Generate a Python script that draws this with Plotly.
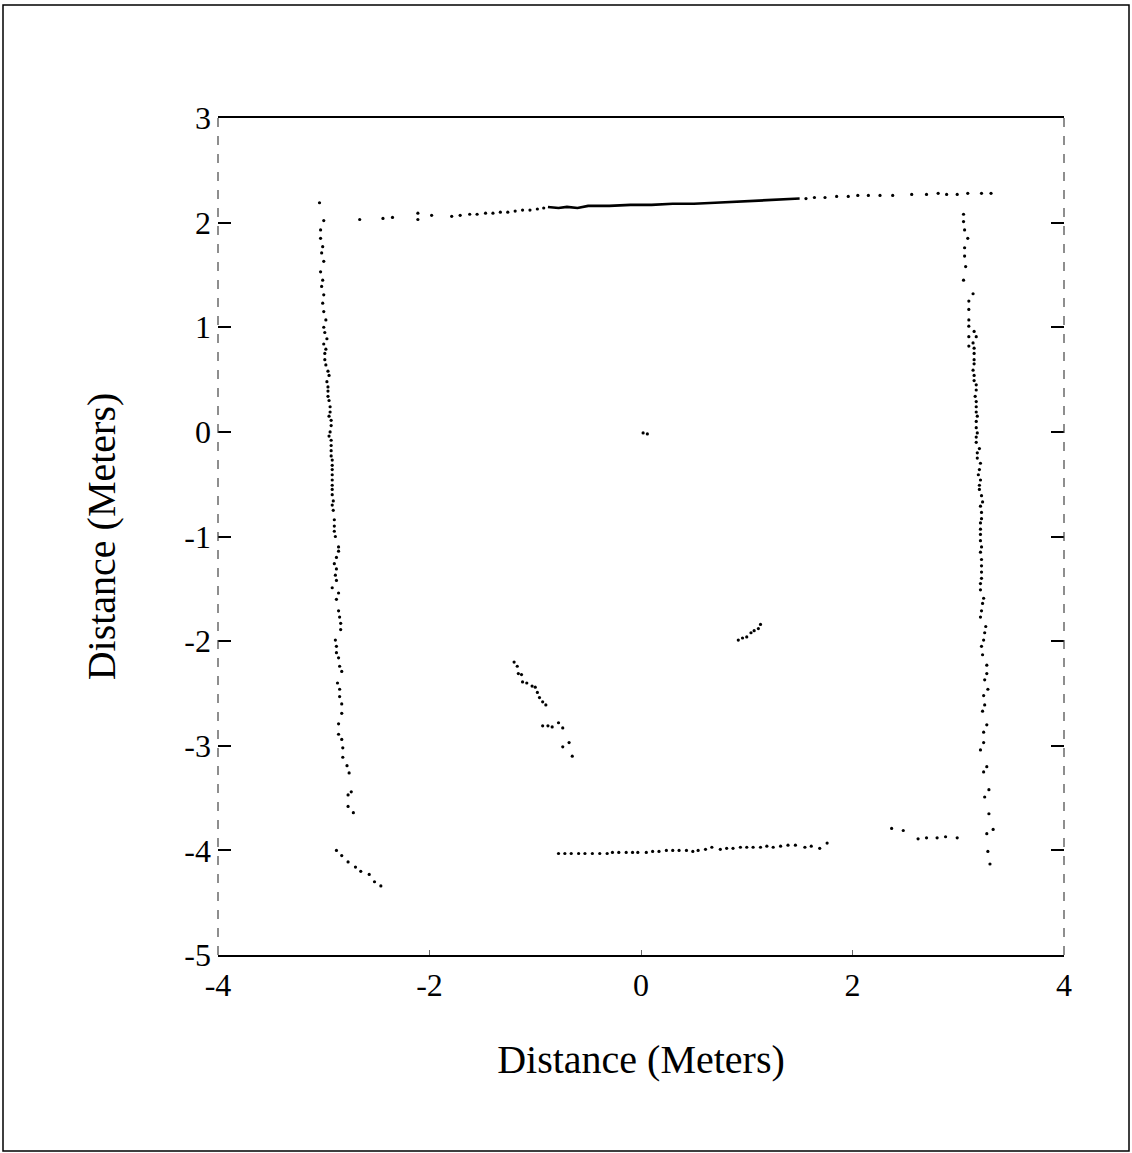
import plotly.graph_objects as go

# ---------------- data (metres) ----------------
TOP_WALL_LEFT = [(-2.66, 2.03), (-2.44, 2.04), (-2.35, 2.05), (-2.11, 2.03), (-2.11, 2.09),
                 (-1.98, 2.07), (-1.79, 2.06), (-1.71, 2.07), (-1.62, 2.08), (-1.55, 2.08),
                 (-1.47, 2.09), (-1.40, 2.09), (-1.33, 2.10), (-1.26, 2.10), (-1.19, 2.11),
                 (-1.12, 2.12), (-1.05, 2.12), (-0.98, 2.13), (-0.92, 2.14)]
TOP_WALL_DENSE = [(-0.88, 2.15), (-0.78, 2.14), (-0.70, 2.15), (-0.60, 2.14), (-0.50, 2.16),
                  (-0.30, 2.16), (-0.10, 2.17), (0.10, 2.17), (0.30, 2.18), (0.50, 2.18),
                  (0.70, 2.19), (0.90, 2.20), (1.10, 2.21), (1.30, 2.22), (1.50, 2.23)]
TOP_WALL_RIGHT = [(1.56, 2.23), (1.64, 2.24), (1.74, 2.24), (1.85, 2.25), (1.96, 2.25),
                  (2.05, 2.26), (2.15, 2.26), (2.26, 2.26), (2.38, 2.26), (2.56, 2.27),
                  (2.70, 2.27), (2.81, 2.28), (2.89, 2.27), (2.99, 2.27), (3.09, 2.28),
                  (3.22, 2.28), (3.31, 2.28)]

LEFT_WALL = [(-3.04, 2.19), (-3.00, 2.02), (-3.03, 1.93), (-3.03, 1.85), (-3.01, 1.77),
             (-3.02, 1.71), (-3.00, 1.63), (-3.03, 1.53), (-3.01, 1.45), (-3.02, 1.39),
             (-3.00, 1.31), (-3.01, 1.23), (-3.00, 1.15), (-2.98, 1.07), (-3.00, 1.00),
             (-2.99, 0.95), (-2.97, 0.89), (-3.00, 0.84), (-2.98, 0.79), (-2.99, 0.75),
             (-2.99, 0.69), (-2.98, 0.64), (-2.96, 0.58), (-2.95, 0.54), (-2.97, 0.48),
             (-2.96, 0.43), (-2.96, 0.39), (-2.96, 0.34), (-2.95, 0.30), (-2.94, 0.24),
             (-2.94, 0.19), (-2.95, 0.15), (-2.93, 0.11), (-2.93, 0.06), (-2.94, 0.00),
             (-2.95, -0.04), (-2.93, -0.08), (-2.93, -0.13), (-2.93, -0.18), (-2.93, -0.23),
             (-2.92, -0.27), (-2.92, -0.32), (-2.92, -0.36), (-2.92, -0.41), (-2.92, -0.46),
             (-2.92, -0.51), (-2.92, -0.55), (-2.92, -0.60), (-2.91, -0.66), (-2.92, -0.70),
             (-2.91, -0.75), (-2.90, -0.84), (-2.90, -0.90), (-2.90, -0.95), (-2.89, -1.00),
             (-2.86, -1.10), (-2.86, -1.14), (-2.88, -1.20), (-2.90, -1.26), (-2.88, -1.31),
             (-2.89, -1.37), (-2.88, -1.42), (-2.92, -1.49), (-2.86, -1.54), (-2.88, -1.60),
             (-2.86, -1.71), (-2.85, -1.77), (-2.84, -1.83), (-2.84, -1.89), (-2.89, -1.99),
             (-2.88, -2.05), (-2.88, -2.11), (-2.86, -2.16), (-2.85, -2.24), (-2.83, -2.29),
             (-2.87, -2.40), (-2.85, -2.46), (-2.85, -2.53), (-2.83, -2.60), (-2.83, -2.69),
             (-2.86, -2.79), (-2.86, -2.89), (-2.83, -2.94), (-2.82, -3.02), (-2.82, -3.11),
             (-2.78, -3.19), (-2.76, -3.26), (-2.77, -3.47), (-2.74, -3.44), (-2.77, -3.58),
             (-2.72, -3.64)]

RIGHT_WALL = [(3.05, 2.08), (3.05, 2.01), (3.06, 1.93), (3.09, 1.85), (3.06, 1.76),
              (3.06, 1.68), (3.07, 1.58), (3.05, 1.45), (3.14, 1.32), (3.10, 1.25),
              (3.10, 1.17), (3.10, 1.07), (3.10, 1.01), (3.10, 0.91), (3.10, 0.82),
              (3.15, 0.96), (3.17, 0.91), (3.14, 0.85), (3.15, 0.80), (3.15, 0.75),
              (3.15, 0.69), (3.15, 0.65), (3.14, 0.59), (3.15, 0.54), (3.15, 0.49),
              (3.17, 0.45), (3.17, 0.40), (3.16, 0.34), (3.17, 0.29), (3.17, 0.24),
              (3.17, 0.19), (3.18, 0.15), (3.17, 0.10), (3.17, 0.04), (3.18, -0.01),
              (3.17, -0.05), (3.17, -0.10), (3.20, -0.16), (3.18, -0.20), (3.18, -0.25),
              (3.21, -0.30), (3.20, -0.36), (3.19, -0.41), (3.21, -0.46), (3.20, -0.51),
              (3.20, -0.55), (3.22, -0.61), (3.23, -0.67), (3.21, -0.71), (3.22, -0.77),
              (3.22, -0.83), (3.21, -0.87), (3.21, -0.93), (3.21, -0.98), (3.21, -1.04),
              (3.22, -1.10), (3.21, -1.15), (3.22, -1.22), (3.22, -1.28), (3.22, -1.34),
              (3.22, -1.40), (3.21, -1.45), (3.21, -1.51), (3.24, -1.59), (3.23, -1.64),
              (3.22, -1.71), (3.21, -1.77), (3.26, -1.86), (3.25, -1.92), (3.24, -1.99),
              (3.22, -2.05), (3.23, -2.13), (3.27, -2.23), (3.27, -2.31), (3.25, -2.37),
              (3.28, -2.46), (3.24, -2.52), (3.25, -2.61), (3.23, -2.67), (3.27, -2.80),
              (3.24, -2.87), (3.24, -2.97), (3.21, -3.04), (3.27, -3.20), (3.24, -3.25),
              (3.29, -3.42), (3.25, -3.49), (3.29, -3.65), (3.33, -3.80), (3.27, -3.84),
              (3.28, -4.01), (3.30, -4.13)]

BOTTOM_WALL = [(-0.78, -4.03), (-0.72, -4.03), (-0.66, -4.03), (-0.59, -4.03), (-0.53, -4.03),
               (-0.46, -4.03), (-0.39, -4.03), (-0.32, -4.03), (-0.27, -4.02), (-0.21, -4.02),
               (-0.14, -4.02), (-0.08, -4.02), (-0.03, -4.02), (0.05, -4.02), (0.11, -4.01),
               (0.17, -4.01), (0.24, -4.00), (0.30, -4.00), (0.36, -4.00), (0.43, -4.00),
               (0.49, -4.01), (0.54, -4.00), (0.61, -3.99), (0.67, -3.97), (0.75, -3.99),
               (0.81, -3.98), (0.87, -3.98), (0.94, -3.97), (1.00, -3.97), (1.06, -3.97),
               (1.13, -3.97), (1.19, -3.96), (1.25, -3.97), (1.32, -3.96), (1.39, -3.95),
               (1.46, -3.95), (1.55, -3.97), (1.61, -3.96), (1.69, -3.98), (1.76, -3.93)]

BOTTOM_RIGHT = [(2.37, -3.79), (2.48, -3.81), (2.62, -3.89), (2.70, -3.88),
                (2.80, -3.88), (2.88, -3.87), (2.99, -3.88)]

BOTTOM_LEFT = [(-2.88, -4.00), (-2.83, -4.05), (-2.77, -4.11), (-2.70, -4.16),
               (-2.65, -4.20), (-2.57, -4.23), (-2.52, -4.30), (-2.46, -4.34)]

OBSTACLE_A = [(-1.20, -2.20), (-1.17, -2.24), (-1.16, -2.31), (-1.13, -2.32), (-1.12, -2.39),
              (-1.08, -2.40), (-1.03, -2.43), (-1.00, -2.44), (-0.98, -2.49), (-0.96, -2.54),
              (-0.93, -2.58), (-0.90, -2.61), (-0.93, -2.81), (-0.88, -2.81), (-0.84, -2.82),
              (-0.78, -2.78), (-0.74, -2.83), (-0.74, -3.01), (-0.68, -2.97), (-0.65, -3.10)]

OBSTACLE_B = [(0.92, -1.99), (0.96, -1.97), (1.00, -1.96), (1.04, -1.92),
              (1.07, -1.90), (1.11, -1.88), (1.13, -1.84)]

ORIGIN_MARK = [(0.02, -0.01), (0.06, -0.02)]

X_TICKS = [-4, -2, 0, 2, 4]
Y_TICKS = [-5, -4, -3, -2, -1, 0, 1, 2, 3]
X_TITLE = "Distance (Meters)"
Y_TITLE = "Distance (Meters)"

# ---------------- figure ----------------
FONT = "Liberation Serif, Times New Roman, serif"

point_sets = [TOP_WALL_LEFT, TOP_WALL_RIGHT, LEFT_WALL, RIGHT_WALL, BOTTOM_WALL,
              BOTTOM_RIGHT, BOTTOM_LEFT, OBSTACLE_A, OBSTACLE_B, ORIGIN_MARK]

fig = go.Figure()
for pts in point_sets:
    fig.add_trace(go.Scatter(
        x=[p[0] for p in pts], y=[p[1] for p in pts], mode="markers",
        marker=dict(color="black", size=3.2, line=dict(width=0)),
        showlegend=False, hoverinfo="skip"))

fig.add_trace(go.Scatter(
    x=[p[0] for p in TOP_WALL_DENSE], y=[p[1] for p in TOP_WALL_DENSE], mode="lines",
    line=dict(color="black", width=2.6), showlegend=False, hoverinfo="skip"))

W, H = 1132, 1153
L, R, T, B = 218, 68, 118, 198
pw, ph = W - L - R, H - T - B


def px(xp):
    return (xp - L) / pw


def py(yp):
    return (H - B - yp) / ph


side_line = dict(color="#444", width=1.2, dash="dash")

fig.update_layout(
    width=W, height=H,
    margin=dict(l=L, r=R, t=T, b=B, pad=0),
    paper_bgcolor="white", plot_bgcolor="white",
    font=dict(family=FONT, color="black"),
    xaxis=dict(range=[-4, 4], tickvals=X_TICKS, ticktext=[str(v) for v in X_TICKS],
               ticks="inside", ticklen=5, tickwidth=1, tickcolor="#666",
               showline=True, linecolor="black", linewidth=2.4, mirror=True,
               showgrid=False, zeroline=False,
               tickfont=dict(family=FONT, size=32),
               title=dict(text=X_TITLE, font=dict(family=FONT, size=40), standoff=43)),
    yaxis=dict(range=[-5, 3], tickvals=Y_TICKS, ticktext=[str(v) for v in Y_TICKS],
               ticks="inside", ticklen=13, tickwidth=1.6, tickcolor="black",
               showline=False, mirror="ticks", ticklabelstandoff=6,
               showgrid=False, zeroline=False,
               tickfont=dict(family=FONT, size=32),
               title=dict(text=Y_TITLE, font=dict(family=FONT, size=40), standoff=56)),
    shapes=[
        dict(type="rect", xref="paper", yref="paper",
             x0=px(3), x1=px(1129), y0=py(1151), y1=py(5),
             line=dict(color="black", width=1.5), fillcolor="rgba(0,0,0,0)", layer="below"),
        dict(type="line", xref="paper", yref="paper", x0=0, x1=0, y0=0, y1=1, line=side_line),
        dict(type="line", xref="paper", yref="paper", x0=1, x1=1, y0=0, y1=1, line=side_line),
    ],
)

fig.write_html("out.html")
